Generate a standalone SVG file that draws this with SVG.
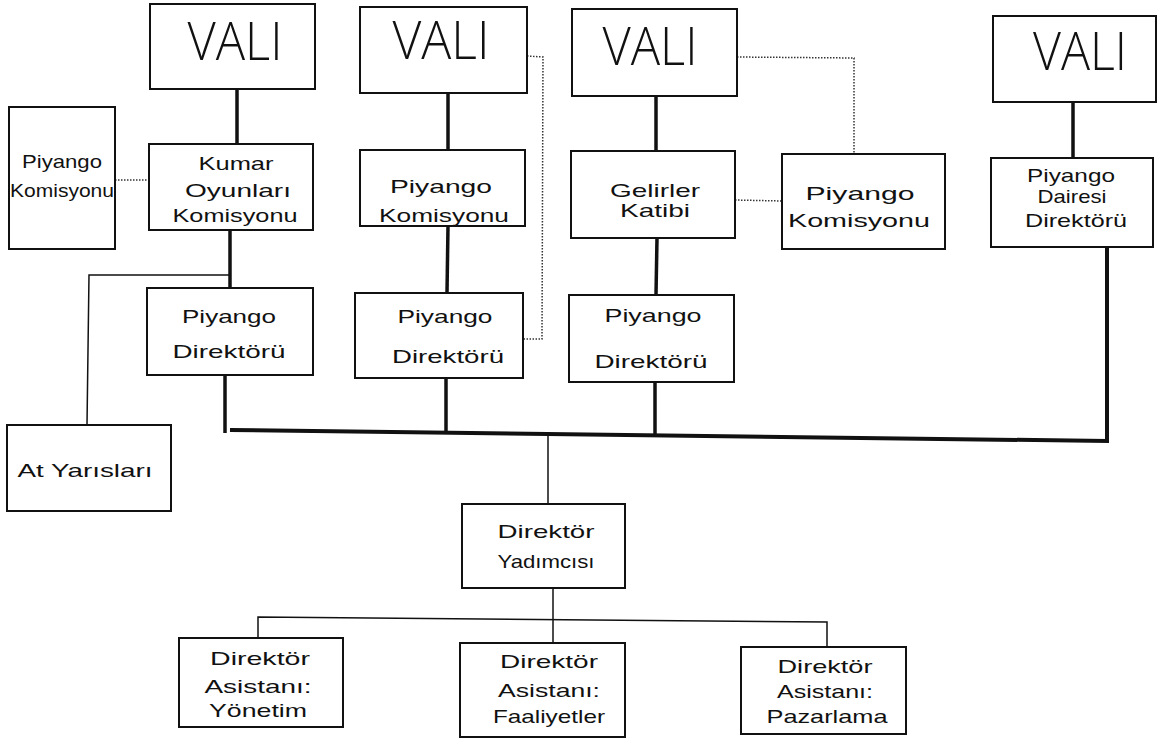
<svg xmlns="http://www.w3.org/2000/svg" width="1158" height="740" viewBox="0 0 1158 740">
<style>
.box{fill:#fff;stroke:#111;stroke-width:2}
.t{font-family:"Liberation Sans",Arial,sans-serif;font-size:19px;fill:#111;text-anchor:middle}
.v{font-family:"Open Sans","Liberation Sans",sans-serif;font-weight:300;font-size:53px;fill:#111;text-anchor:middle}
.thick{stroke:#111;stroke-width:3.5;fill:none}
.bus{stroke:#111;stroke-width:4;fill:none}
.thin{stroke:#111;stroke-width:1.5;fill:none}
.dot{stroke:#333;stroke-width:1.5;stroke-dasharray:1.5 1.5;fill:none}
</style>
<rect width="1158" height="740" fill="#fff"/>
<g id="connectors">
<line class="thick" x1="237" y1="89" x2="237" y2="144"/>
<line class="thick" x1="230" y1="230" x2="230" y2="289"/>
<line class="thick" x1="448" y1="93" x2="448" y2="150"/>
<line class="thick" x1="448" y1="226" x2="447" y2="293"/>
<line class="thick" x1="656" y1="96" x2="656" y2="151"/>
<line class="thick" x1="657" y1="238" x2="656" y2="295"/>
<line class="thick" x1="1073" y1="102" x2="1073" y2="158"/>
<line class="thick" x1="225" y1="375" x2="225" y2="433"/>
<line class="thick" x1="446" y1="378" x2="446" y2="434"/>
<line class="thick" x1="655" y1="382" x2="655" y2="437"/>
<polyline class="bus" points="230,430 1107,441 1107,247"/>
<line class="thin" x1="548" y1="434" x2="548" y2="504"/>
<line class="thin" x1="553" y1="588" x2="553" y2="643"/>
<polyline class="thin" points="258,638 258,617 827,622 827,647"/>
<polyline class="thin" points="229,275 89,275 87,425"/>
<line class="dot" x1="115" y1="180" x2="149" y2="180"/>
<polyline class="dot" points="527,56 543,57 542,339 524,339"/>
<polyline class="dot" points="737,57 854,58 854,154"/>
<line class="dot" x1="735" y1="200" x2="782" y2="201"/>
</g>
<g id="vali1"><rect class="box" x="150" y="4" width="165" height="85"/><text class="v" x="235" y="60" textLength="95" lengthAdjust="spacingAndGlyphs">VALI</text></g>
<g id="vali2"><rect class="box" x="360" y="7" width="167" height="86"/><text class="v" x="441" y="59" textLength="97" lengthAdjust="spacingAndGlyphs">VALI</text></g>
<g id="vali3"><rect class="box" x="572" y="9" width="165" height="87"/><text class="v" x="650" y="65" textLength="95" lengthAdjust="spacingAndGlyphs">VALI</text></g>
<g id="vali4"><rect class="box" x="993" y="16" width="163" height="86"/><text class="v" x="1080" y="70" textLength="94" lengthAdjust="spacingAndGlyphs">VALI</text></g>
<g id="piyango-komisyonu-1"><rect class="box" x="9" y="107" width="106" height="142"/>
<text class="t" x="62" y="168" textLength="80" lengthAdjust="spacingAndGlyphs">Piyango</text>
<text class="t" x="62" y="197" textLength="104" lengthAdjust="spacingAndGlyphs">Komisyonu</text></g>
<g id="kumar"><rect class="box" x="149" y="144" width="164" height="86"/>
<text class="t" x="236" y="170" textLength="75" lengthAdjust="spacingAndGlyphs">Kumar</text>
<text class="t" x="238" y="197" textLength="106" lengthAdjust="spacingAndGlyphs">Oyunları</text>
<text class="t" x="235" y="222" textLength="125" lengthAdjust="spacingAndGlyphs">Komisyonu</text></g>
<g id="piyango-komisyonu-2"><rect class="box" x="360" y="150" width="165" height="76"/>
<text class="t" x="441" y="193" textLength="102" lengthAdjust="spacingAndGlyphs">Piyango</text>
<text class="t" x="444" y="222" textLength="130" lengthAdjust="spacingAndGlyphs">Komisyonu</text></g>
<g id="gelirler"><rect class="box" x="571" y="151" width="164" height="87"/>
<text class="t" x="655" y="197" textLength="90" lengthAdjust="spacingAndGlyphs">Gelirler</text>
<text class="t" x="655" y="217" textLength="70" lengthAdjust="spacingAndGlyphs">Katibi</text></g>
<g id="piyango-komisyonu-3"><rect class="box" x="782" y="154" width="163" height="95"/>
<text class="t" x="860" y="200" textLength="109" lengthAdjust="spacingAndGlyphs">Piyango</text>
<text class="t" x="859" y="227" textLength="142" lengthAdjust="spacingAndGlyphs">Komisyonu</text></g>
<g id="piyango-dairesi"><rect class="box" x="991" y="158" width="162" height="89"/>
<text class="t" x="1071" y="182" textLength="88" lengthAdjust="spacingAndGlyphs">Piyango</text>
<text class="t" x="1072" y="203" textLength="69" lengthAdjust="spacingAndGlyphs">Dairesi</text>
<text class="t" x="1076" y="227" textLength="102" lengthAdjust="spacingAndGlyphs">Direktörü</text></g>
<g id="piyango-direktoru-1"><rect class="box" x="147" y="288" width="166" height="87"/>
<text class="t" x="229" y="323" textLength="94" lengthAdjust="spacingAndGlyphs">Piyango</text>
<text class="t" x="229" y="358" textLength="113" lengthAdjust="spacingAndGlyphs">Direktörü</text></g>
<g id="piyango-direktoru-2"><rect class="box" x="355" y="293" width="168" height="85"/>
<text class="t" x="445" y="323" textLength="95" lengthAdjust="spacingAndGlyphs">Piyango</text>
<text class="t" x="448" y="363" textLength="112" lengthAdjust="spacingAndGlyphs">Direktörü</text></g>
<g id="piyango-direktoru-3"><rect class="box" x="569" y="295" width="165" height="87"/>
<text class="t" x="653" y="322" textLength="97" lengthAdjust="spacingAndGlyphs">Piyango</text>
<text class="t" x="651" y="368" textLength="113" lengthAdjust="spacingAndGlyphs">Direktörü</text></g>
<g id="at-yarislari"><rect class="box" x="7" y="425" width="164" height="86"/>
<text class="t" x="85" y="477" textLength="135" lengthAdjust="spacingAndGlyphs">At Yarısları</text></g>
<g id="direktor-yadimcisi"><rect class="box" x="462" y="504" width="163" height="84"/>
<text class="t" x="546" y="538" textLength="97" lengthAdjust="spacingAndGlyphs">Direktör</text>
<text class="t" x="546" y="568" textLength="97" lengthAdjust="spacingAndGlyphs">Yadımcısı</text></g>
<g id="yonetim"><rect class="box" x="179" y="638" width="164" height="89"/>
<text class="t" x="260" y="665" textLength="100" lengthAdjust="spacingAndGlyphs">Direktör</text>
<text class="t" x="258" y="693" textLength="107" lengthAdjust="spacingAndGlyphs">Asistanı:</text>
<text class="t" x="258" y="717" textLength="98" lengthAdjust="spacingAndGlyphs">Yönetim</text></g>
<g id="faaliyetler"><rect class="box" x="460" y="643" width="165" height="94"/>
<text class="t" x="549" y="668" textLength="98" lengthAdjust="spacingAndGlyphs">Direktör</text>
<text class="t" x="549" y="697" textLength="102" lengthAdjust="spacingAndGlyphs">Asistanı:</text>
<text class="t" x="549" y="723" textLength="112" lengthAdjust="spacingAndGlyphs">Faaliyetler</text></g>
<g id="pazarlama"><rect class="box" x="741" y="647" width="165" height="87"/>
<text class="t" x="825" y="673" textLength="95" lengthAdjust="spacingAndGlyphs">Direktör</text>
<text class="t" x="825" y="698" textLength="96" lengthAdjust="spacingAndGlyphs">Asistanı:</text>
<text class="t" x="827" y="723" textLength="121" lengthAdjust="spacingAndGlyphs">Pazarlama</text></g>
</svg>
